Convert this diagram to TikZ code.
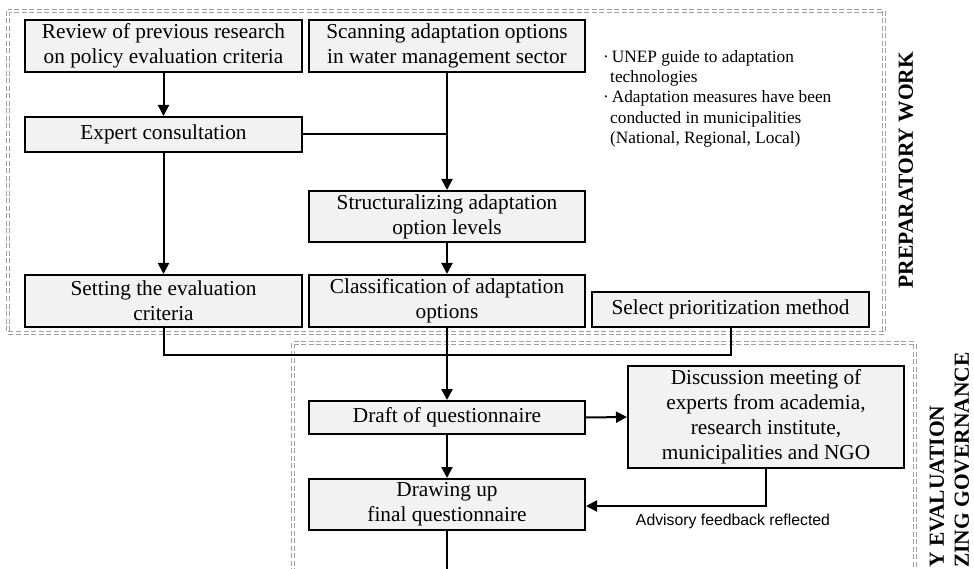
\documentclass[tikz,border=0pt]{standalone}
\usepackage{fontspec}
\setmainfont{Liberation Serif}
\setsansfont{Liberation Sans}
\usetikzlibrary{arrows.meta}
\definecolor{boxgray}{HTML}{F2F2F2}
\definecolor{dashgray}{HTML}{A0A0A0}
\begin{document}
\begin{tikzpicture}[x=1pt,y=-1pt,
  stepbox/.style={draw=black,fill=boxgray,line width=2pt,align=center,inner sep=0pt,
    font=\fontsize{21.3}{25}\selectfont},
  conn/.style={line width=2pt,draw=black},
  arr/.style={conn,-{Triangle[length=11pt,width=11pt]}},
  dbl/.style={draw=dashgray,line width=0.9pt,double=white,double distance=1.8pt,
    dash pattern=on 5pt off 2.5pt},
  sidelabel/.style={rotate=90,font=\fontsize{21.5}{24}\selectfont\bfseries,inner sep=0pt}]
\useasboundingbox (0,0) rectangle (974,569);
\clip (0,0) rectangle (974,569);
% group frames
\draw[dbl] (8,11) rectangle (884,333);
\draw[dbl] (293,343) rectangle (915,620);
% boxes
\node[stepbox,minimum width=277pt,minimum height=52pt] (review) at (163.5,46) {Review of previous research\\on policy evaluation criteria};
\node[stepbox,minimum width=276pt,minimum height=52pt] (scan) at (447,46) {Scanning adaptation options\\in water management sector};
\node[stepbox,minimum width=277pt,minimum height=35pt] (expert) at (163.5,134.5) {Expert consultation};
\node[stepbox,minimum width=276pt,minimum height=51pt] (struct) at (447,216.5) {Structuralizing adaptation\\option levels};
\node[stepbox,minimum width=277pt,minimum height=52pt] (setting) at (163.5,301) {Setting the evaluation\\criteria};
\node[stepbox,minimum width=276pt,minimum height=52pt] (classif) at (447,301) {Classification of adaptation\\options};
\node[stepbox,minimum width=277pt,minimum height=35pt] (select) at (730.5,309.5) {Select prioritization method};
\node[stepbox,minimum width=276pt,minimum height=33pt] (draft) at (447,417.5) {Draft of questionnaire};
\node[stepbox,minimum width=276pt,minimum height=51pt] (final) at (447,504.5) {Drawing up\\final questionnaire};
\node[stepbox,minimum width=276pt,minimum height=102pt] (discuss) at (766,417) {Discussion meeting of\\experts from academia,\\research institute,\\municipalities and NGO};
% notes
\node[anchor=north west,align=left,inner sep=0pt,font=\fontsize{17.3}{20.3}\selectfont] (notes) at (603,50)
  {·\,UNEP guide to adaptation\\\hspace*{7pt}technologies\\·\,Adaptation measures have been\\\hspace*{7pt}conducted in municipalities\\\hspace*{7pt}(National, Regional, Local)};
% side labels
\node[sidelabel] (prep) at (906,170) {PREPARATORY WORK};
\node[sidelabel,anchor=west] (evallbl) at (937,568) {Y EVALUATION};
\node[sidelabel,anchor=west] (govlbl) at (962,568) {ZING GOVERNANCE};
% feedback label
\node[font=\sffamily\fontsize{15.8}{18}\selectfont,inner sep=0pt] (fb) at (733,521) {Advisory feedback reflected};
% connectors
\coordinate (j1) at (447,134.5);
\coordinate (m1) at (163.5,355);
\coordinate (m2) at (730.5,355);
\coordinate (fbturn) at (766,506);
\coordinate (out) at (447,600);
\draw[arr] (review) -- (expert);
\draw[arr] (scan) -- (struct);
\draw[conn] (expert.east) -- (j1);
\draw[arr] (expert) -- (setting);
\draw[arr] (struct) -- (classif);
\draw[conn] (setting.south) -- (m1) -- (m2) -- (select.south);
\draw[arr,line width=2.6pt] (classif) -- (draft);
\draw[arr] (draft) -- (final);
\draw[conn] (final.south) -- (out);
\draw[arr] (draft.east) -- (discuss.west);
\draw[arr] (discuss.south) -- (fbturn) -- (final.east |- fbturn);
\end{tikzpicture}
\end{document}
